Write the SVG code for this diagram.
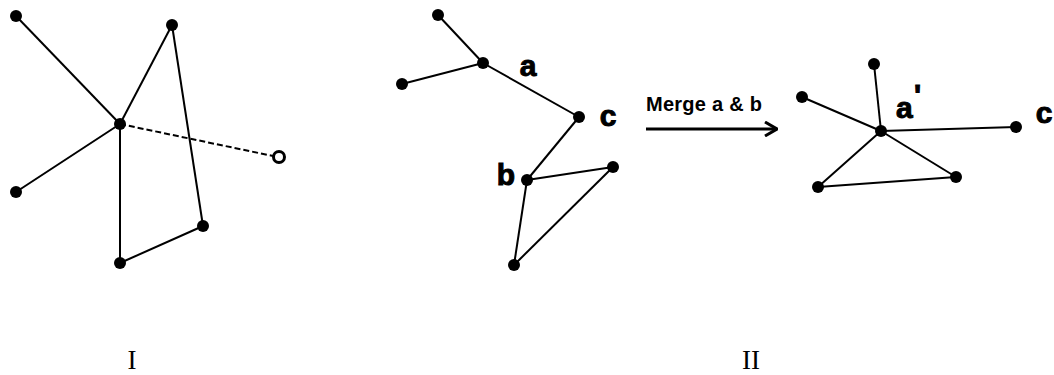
<svg xmlns="http://www.w3.org/2000/svg" width="1054" height="375" viewBox="0 0 1054 375">
<defs>
<style>
.e{stroke:#000;stroke-width:2;fill:none}
.d{stroke:#000;stroke-width:2;fill:none;stroke-dasharray:6 3}
.n{fill:#000}
.lbl{font-family:"Liberation Sans",Arial,sans-serif;font-weight:bold;font-size:30px;fill:#000;stroke:#000;stroke-width:1}
.cap{font-family:"Liberation Sans",Arial,sans-serif;font-weight:bold;font-size:20px;fill:#000}
.rom{font-family:"Liberation Serif","Times New Roman",serif;font-size:27px;fill:#000}
</style>
<marker id="chev" viewBox="0 0 14 16" refX="13" refY="8" markerWidth="14" markerHeight="16" markerUnits="userSpaceOnUse" orient="auto">
<path d="M1,1 L13,8 L1,15" fill="none" stroke="#000" stroke-width="3"/>
</marker>
</defs>
<rect width="1054" height="375" fill="#fff"/>
<g id="connectors">
<line class="e" x1="16" y1="16" x2="120" y2="124"/>
<line class="e" x1="172" y1="25" x2="120" y2="124"/>
<line class="e" x1="16" y1="192" x2="120" y2="124"/>
<line class="e" x1="120" y1="124" x2="120" y2="263"/>
<line class="e" x1="120" y1="263" x2="203" y2="226"/>
<line class="e" x1="203" y1="226" x2="172" y2="25"/>
<line class="d" x1="120" y1="124" x2="273" y2="156"/>
<line class="e" x1="438" y1="15" x2="483" y2="63"/>
<line class="e" x1="402" y1="84" x2="483" y2="63"/>
<line class="e" x1="483" y1="63" x2="579" y2="117"/>
<line class="e" x1="579" y1="117" x2="527" y2="180"/>
<line class="e" x1="527" y1="180" x2="613" y2="167"/>
<line class="e" x1="527" y1="180" x2="514" y2="265"/>
<line class="e" x1="514" y1="265" x2="613" y2="167"/>
<line x1="646" y1="129" x2="777" y2="129" stroke="#000" stroke-width="3" marker-end="url(#chev)"/>
<line class="e" x1="874" y1="64" x2="881" y2="131"/>
<line class="e" x1="802" y1="97" x2="881" y2="131"/>
<line class="e" x1="881" y1="131" x2="1016" y2="127"/>
<line class="e" x1="881" y1="131" x2="956" y2="177"/>
<line class="e" x1="881" y1="131" x2="818" y2="187"/>
<line class="e" x1="818" y1="187" x2="956" y2="177"/>
</g>
<g id="n1"><circle class="n" cx="16" cy="16" r="6"/></g>
<g id="n2"><circle class="n" cx="172" cy="25" r="6"/></g>
<g id="n3"><circle class="n" cx="120" cy="124" r="6"/></g>
<g id="n4"><circle cx="279" cy="157" r="5.5" fill="#fff" stroke="#000" stroke-width="3"/></g>
<g id="n5"><circle class="n" cx="16" cy="192" r="6"/></g>
<g id="n6"><circle class="n" cx="203" cy="226" r="6"/></g>
<g id="n7"><circle class="n" cx="120" cy="263" r="6"/></g>
<g id="m1"><circle class="n" cx="438" cy="15" r="6"/></g>
<g id="m2"><circle class="n" cx="402" cy="84" r="6"/></g>
<g id="ma"><circle class="n" cx="483" cy="63" r="6"/><text class="lbl" x="528" y="76" text-anchor="middle">a</text></g>
<g id="mc"><circle class="n" cx="579" cy="117" r="6"/><text class="lbl" x="608" y="126" text-anchor="middle">c</text></g>
<g id="mb"><circle class="n" cx="527" cy="180" r="6"/><text class="lbl" x="506" y="185" text-anchor="middle">b</text></g>
<g id="m3"><circle class="n" cx="613" cy="167" r="6"/></g>
<g id="m4"><circle class="n" cx="514" cy="265" r="6"/></g>
<g id="arrowlabel"><text class="cap" x="646" y="111" textLength="116">Merge a &amp; b</text></g>
<g id="r1"><circle class="n" cx="874" cy="64" r="6"/></g>
<g id="r2"><circle class="n" cx="802" cy="97" r="6"/></g>
<g id="ra"><circle class="n" cx="881" cy="131" r="6"/><text class="lbl" x="896" y="118">a</text><text class="lbl" x="914" y="105" font-size="16">'</text></g>
<g id="rc"><circle class="n" cx="1016" cy="127" r="6"/><text class="lbl" x="1044" y="123" text-anchor="middle">c</text></g>
<g id="r3"><circle class="n" cx="956" cy="177" r="6"/></g>
<g id="r4"><circle class="n" cx="818" cy="187" r="6"/></g>
<g id="labels">
<text class="rom" x="132" y="369" text-anchor="middle">I</text>
<text class="rom" x="751" y="369" text-anchor="middle">II</text>
</g>
</svg>
